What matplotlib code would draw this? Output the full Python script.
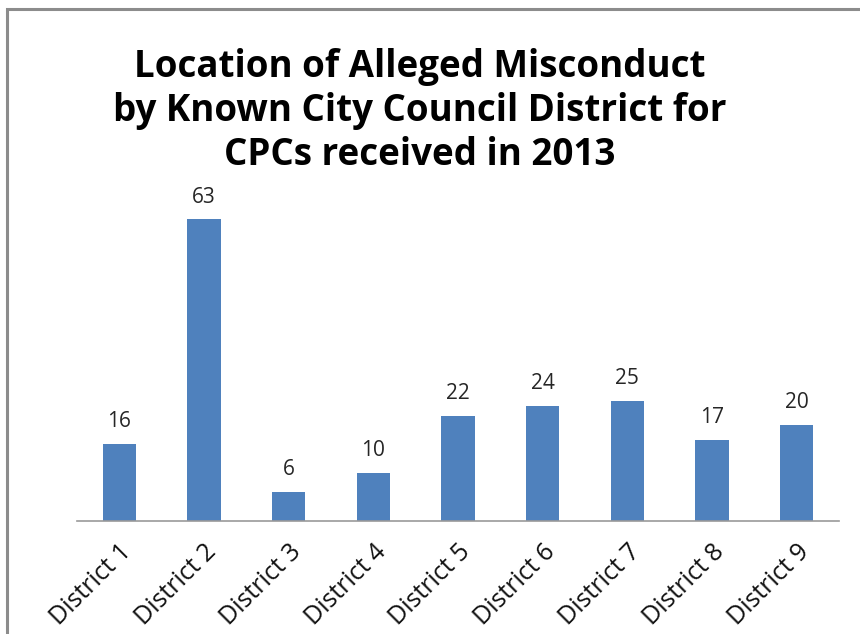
import matplotlib.pyplot as plt
from matplotlib.patches import Rectangle

districts = ['District 1', 'District 2', 'District 3', 'District 4', 'District 5',
             'District 6', 'District 7', 'District 8', 'District 9']
counts = [16, 63, 6, 10, 22, 24, 25, 17, 20]

fig = plt.figure(figsize=(8.6, 6.34), dpi=100)
ax = fig.add_axes([77/860, 113/634, 762/860, 335/634])

x = range(len(districts))
bars = ax.bar(x, counts, width=0.39, color='#4F81BD')
for xi, v in zip(x, counts):
    ax.text(xi, v + 2.5, str(v), ha='center', va='bottom', fontsize=15,
            color='#262626', family='Open Sans')

ax.set_xlim(-0.5, len(districts) - 0.5)
ax.set_ylim(0, 70)
ax.set_yticks([])
ax.set_xticks(list(x))
ax.set_xticklabels(districts, rotation=45, ha='right', rotation_mode='anchor',
                   fontsize=18, family='Open Sans', color='#111111')
ax.tick_params(axis='x', length=0, pad=13)
for s in ['top', 'right', 'left']:
    ax.spines[s].set_visible(False)
ax.spines['bottom'].set_color('#999999')
ax.spines['bottom'].set_linewidth(1.2)

fig.text(420/860, 1 - 111/634,
         'Location of Alleged Misconduct\nby Known City Council District for\nCPCs received in 2013',
         ha='center', va='center', fontsize=26.5, fontweight='bold',
         family='Open Sans', linespacing=1.22)

# outer chart border
fig.patches.append(Rectangle((7/860, -0.1), 1.2, 1 - 9/634 + 0.1, transform=fig.transFigure,
                             fill=False, edgecolor='#8c8c8c', linewidth=2.2))

fig.savefig('out.png', dpi=100)
